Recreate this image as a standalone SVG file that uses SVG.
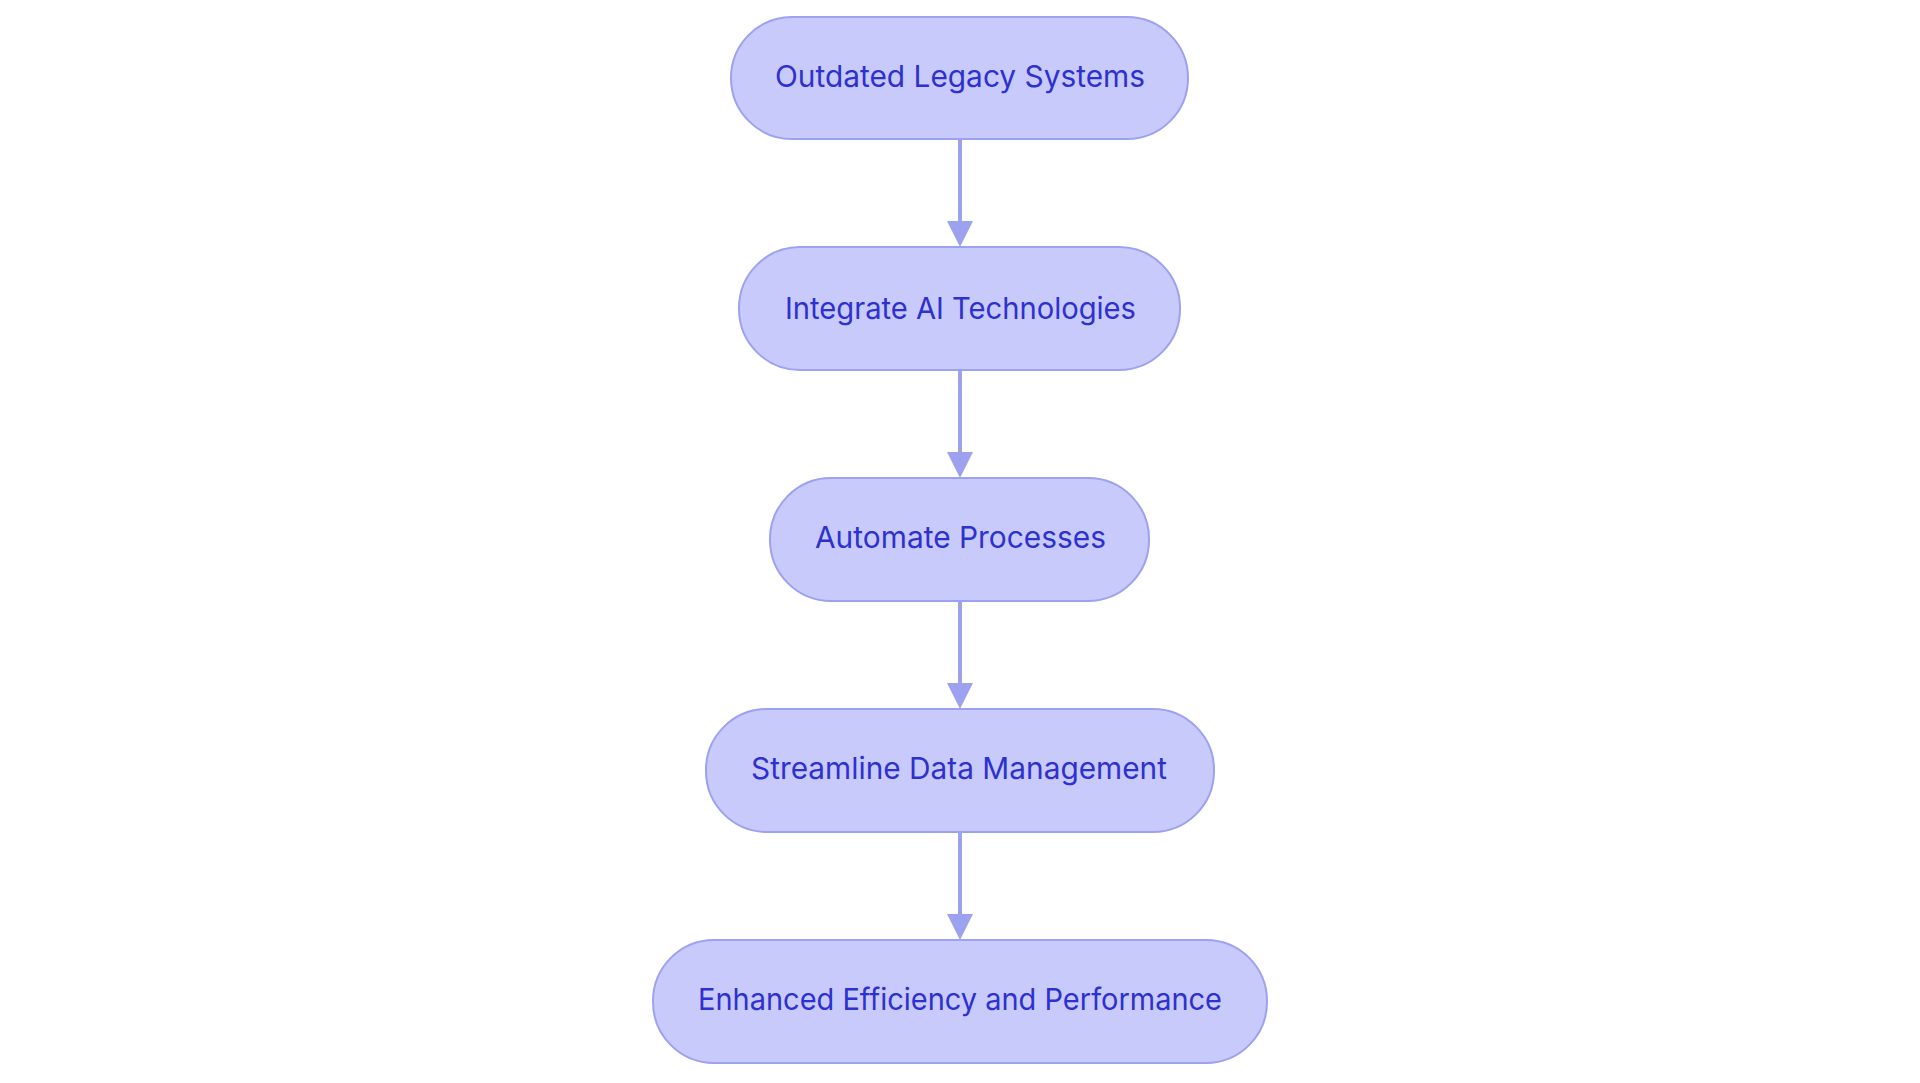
<svg xmlns="http://www.w3.org/2000/svg" width="1920" height="1083" viewBox="0 0 1920 1083">
<style>
.node rect{fill:#c9cafc;stroke:#9ca1f0;stroke-width:2}
.node text{font-family:Inter,"Open Sans","Liberation Sans",sans-serif;font-size:30px;fill:#2d31cf;text-anchor:middle}
.edge{stroke:#9ca1f0;stroke-width:4;fill:none}
.head{fill:#9ca1f0}
</style>
<rect width="1920" height="1083" fill="#ffffff"/>
<g id="connectors">
<line class="edge" x1="960" y1="139" x2="960" y2="224"/>
<polygon class="head" points="947,221 973,221 960,247"/>
<line class="edge" x1="960" y1="370" x2="960" y2="455"/>
<polygon class="head" points="947,452 973,452 960,478"/>
<line class="edge" x1="960" y1="601" x2="960" y2="686"/>
<polygon class="head" points="947,683 973,683 960,709"/>
<line class="edge" x1="960" y1="832" x2="960" y2="917"/>
<polygon class="head" points="947,914 973,914 960,940"/>
</g>
<g id="n1" class="node"><rect x="731" y="17" width="457" height="122" rx="61"/><text x="960" y="87" textLength="370" lengthAdjust="spacingAndGlyphs">Outdated Legacy Systems</text></g>
<g id="n2" class="node"><rect x="739" y="247" width="441" height="123" rx="61"/><text x="960.5" y="319" textLength="351" lengthAdjust="spacingAndGlyphs">Integrate AI Technologies</text></g>
<g id="n3" class="node"><rect x="770" y="478" width="379" height="123" rx="61"/><text x="960.5" y="548" textLength="291" lengthAdjust="spacingAndGlyphs">Automate Processes</text></g>
<g id="n4" class="node"><rect x="706" y="709" width="508" height="123" rx="61"/><text x="959" y="779" textLength="416" lengthAdjust="spacingAndGlyphs">Streamline Data Management</text></g>
<g id="n5" class="node"><rect x="653" y="940" width="614" height="123" rx="61"/><text x="960" y="1010" textLength="524" lengthAdjust="spacingAndGlyphs">Enhanced Efficiency and Performance</text></g>
</svg>
